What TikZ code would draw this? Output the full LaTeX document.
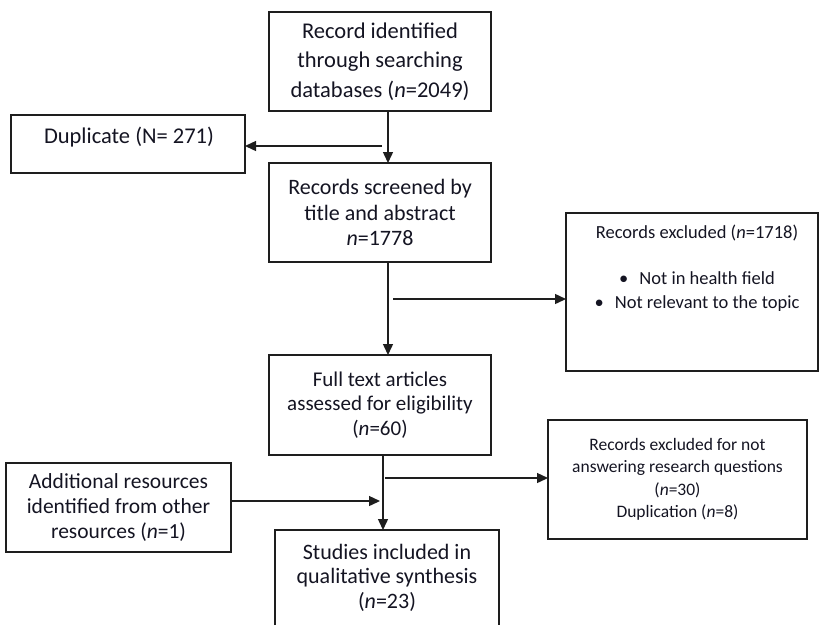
\documentclass[tikz,border=0pt]{standalone}
\usepackage{fontspec}
\setmainfont{Carlito}
\usetikzlibrary{arrows.meta}
\definecolor{txt}{RGB}{20,20,34}
\definecolor{ln}{RGB}{30,30,30}
\tikzset{
  box/.style={draw=ln, line width=1.8pt, rectangle, inner sep=0pt, outer sep=0pt, align=center, text=txt},
  plain/.style={inner sep=0pt, outer sep=0pt, align=center, text=txt},
  arr/.style={draw=ln, line width=1.4pt, -{Triangle[length=11pt,width=10pt]}},
}
\begin{document}
\begin{tikzpicture}[x=1pt,y=-1pt]
\useasboundingbox (0,0) rectangle (819,625);
% boxes
\node[box, minimum width=222pt, minimum height=99pt, font=\fontsize{22.5}{29.5}\selectfont] (rec) at (380,61.5)
  {Record identified\\through searching\\databases (\textit{n}=2049)};
\node[box, minimum width=234pt, minimum height=58pt] (dup) at (128,144) {};
\node[plain, font=\fontsize{22.5}{26}\selectfont] (dupT) at (129,137) {Duplicate (N= 271)};
\node[box, minimum width=222pt, minimum height=99pt, font=\fontsize{22}{25.5}\selectfont] (scr) at (380,212.5)
  {Records screened by\\title and abstract\\\textit{n}=1778};
\node[box, minimum width=252pt, minimum height=158pt] (ex1) at (692,292) {};
\node[plain, font=\fontsize{18.5}{24}\selectfont] (ex1T) at (697,268)
  {Records excluded (\textit{n}=1718)\\[22pt]
   •\hspace{11pt}Not in health field\\
   •\hspace{11pt}Not relevant to the topic};
\node[box, minimum width=222pt, minimum height=100pt, font=\fontsize{21}{24.5}\selectfont] (full) at (380,405)
  {Full text articles\\assessed for eligibility\\(\textit{n}=60)};
\node[box, minimum width=259pt, minimum height=119pt, font=\fontsize{17.5}{22.5}\selectfont] (ex2) at (677.5,479.5)
  {Records excluded for not\\answering research questions\\(\textit{n}=30)\\Duplication (\textit{n}=8)};
\node[box, minimum width=225pt, minimum height=89pt, font=\fontsize{21.5}{25}\selectfont] (add) at (118.5,507.5)
  {Additional resources\\identified from other\\resources (\textit{n}=1)};
\node[plain, minimum width=224pt, minimum height=95pt, font=\fontsize{22}{24.5}\selectfont] (inc) at (387,577.5)
  {Studies included in\\qualitative synthesis\\(\textit{n}=23)};
\draw[ln, line width=1.8pt] (inc.south west) -- (inc.north west) -- (inc.north east) -- (inc.south east);
% junction points
\coordinate (j1) at (382,146);
\coordinate (j2) at (393,299);
\coordinate (j3) at (385,478);
\coordinate (j4) at (380,501);
% connectors
\draw[arr] ([xshift=8pt]rec.south) -- ([xshift=8pt]scr.north);
\draw[arr] (j1) -- (j1 -| dup.east);
\draw[arr] ([xshift=8pt]scr.south) -- ([xshift=8pt]full.north);
\draw[arr] (j2) -- (j2 -| ex1.west);
\draw[arr] ([xshift=3pt]full.south) -- ([xshift=3pt]full.south |- inc.north);
\draw[arr] (j3) -- (j3 -| ex2.west);
\draw[arr] (j4 -| add.east) -- (j4);
\end{tikzpicture}
\end{document}
